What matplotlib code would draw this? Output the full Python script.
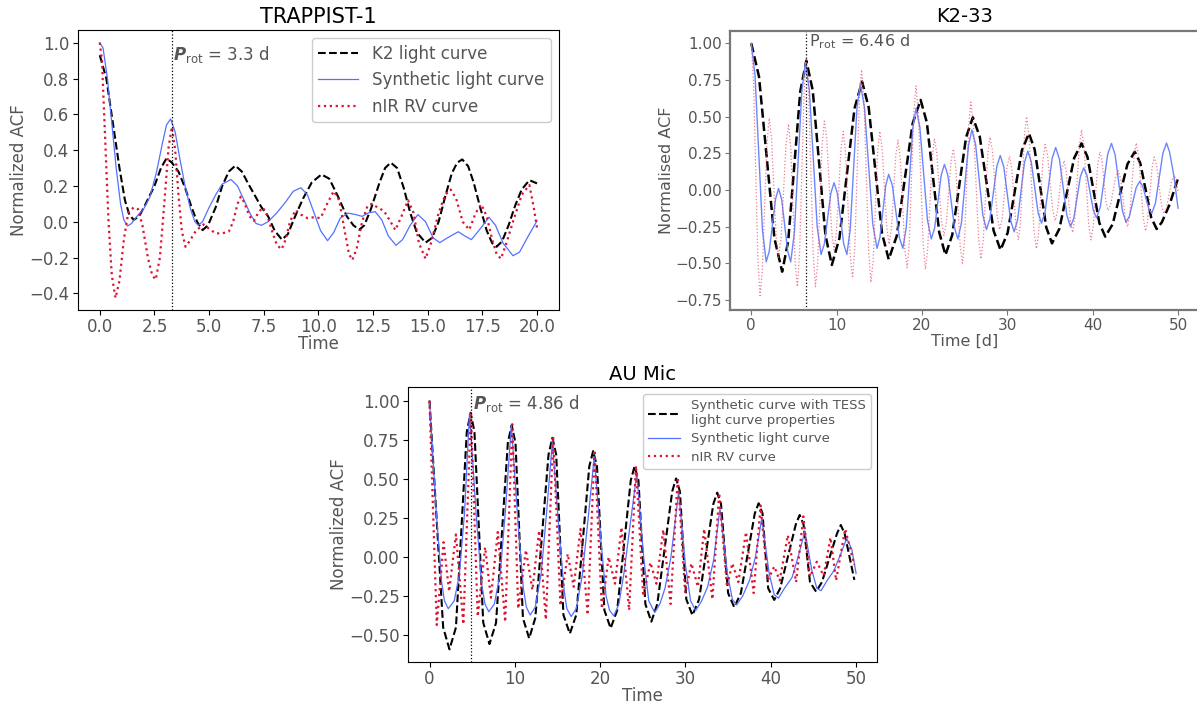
import matplotlib
matplotlib.use("Agg")
import matplotlib.pyplot as plt
from matplotlib.mathtext import MathTextParser

# ---------------- TRAPPIST-1 (panel 1) ----------------
trap_k2_t = [0.0, 0.3, 0.6, 0.9, 1.15, 1.35, 1.55, 1.8, 2.1, 2.5, 2.8, 3.05, 3.3, 3.6, 3.9, 4.2, 4.45, 4.7,
             4.95, 5.3, 5.6, 5.9, 6.2, 6.5, 6.8, 7.4, 7.7, 8.0, 8.33, 8.6, 8.9, 9.3, 9.7, 10.14, 10.5, 10.9,
             11.3, 11.6, 11.87, 12.1, 12.4, 12.8, 13.05, 13.31, 13.6, 13.9, 14.2, 14.5, 14.9, 15.2, 15.5,
             15.8, 16.1, 16.35, 16.58, 16.85, 17.1, 17.4, 17.7, 17.95, 18.15, 18.4, 18.7, 19.0, 19.3, 19.65, 20.0]
trap_k2_v = [0.93, 0.80, 0.55, 0.30, 0.12, 0.04, 0.01, 0.03, 0.10, 0.20, 0.30, 0.354, 0.33, 0.28, 0.19, 0.08,
             0.0, -0.047, -0.02, 0.08, 0.20, 0.28, 0.313, 0.28, 0.21, 0.08, 0.03, -0.05, -0.10, -0.07, 0.02,
             0.13, 0.22, 0.264, 0.24, 0.14, 0.03, -0.02, -0.045, -0.02, 0.07, 0.22, 0.30, 0.33, 0.30, 0.19,
             0.05, -0.06, -0.117, -0.09, 0.0, 0.14, 0.27, 0.33, 0.348, 0.31, 0.22, 0.08, -0.05, -0.12, -0.14,
             -0.11, -0.02, 0.09, 0.18, 0.232, 0.214]

trap_syn_t = [0.0, 0.15, 0.35, 0.55, 0.75, 0.95, 1.1, 1.27, 1.45, 1.7, 2.0, 2.3, 2.6, 2.85, 3.05, 3.24, 3.45,
              3.65, 3.9, 4.15, 4.35, 4.5, 4.7, 5.0, 5.3, 5.6, 6.0, 6.3, 6.6, 6.9, 7.15, 7.4, 7.7, 8.1, 8.5,
              8.85, 9.2, 9.5, 9.8, 10.1, 10.42, 10.7, 11.0, 11.35, 11.7, 12.0, 12.3, 12.6, 12.9, 13.2, 13.55,
              13.85, 14.2, 14.55, 14.9, 15.25, 15.55, 15.9, 16.4, 16.7, 17.0, 17.4, 17.8, 18.1, 18.45, 18.9,
              19.2, 19.6, 20.0]
trap_syn_v = [1.0, 0.97, 0.80, 0.55, 0.30, 0.10, 0.01, -0.024, -0.01, 0.03, 0.07, 0.14, 0.28, 0.43, 0.54,
              0.574, 0.50, 0.36, 0.20, 0.07, 0.0, -0.02, 0.0, 0.08, 0.15, 0.21, 0.236, 0.20, 0.12, 0.04,
              -0.01, -0.02, 0.0, 0.05, 0.11, 0.17, 0.19, 0.15, 0.05, -0.05, -0.106, -0.06, 0.02, 0.048,
              0.04, 0.03, 0.05, 0.056, 0.01, -0.08, -0.132, -0.10, -0.02, 0.04, 0.0, -0.09, -0.117, -0.09,
              -0.056, -0.08, -0.10, -0.04, 0.025, -0.02, -0.12, -0.19, -0.17, -0.08, 0.005]

trap_rv_t = [0.0, 0.1, 0.25, 0.4, 0.55, 0.72, 0.9, 1.1, 1.3, 1.55, 1.75, 1.95, 2.2, 2.4, 2.56, 2.75, 2.95,
             3.15, 3.3, 3.45, 3.6, 3.75, 3.92, 4.1, 4.4, 4.75, 5.0, 5.3, 5.6, 5.9, 6.1, 6.3, 6.45, 6.6, 6.85,
             7.05, 7.25, 7.45, 7.65, 7.9, 8.1, 8.32, 8.5, 8.7, 8.95, 9.2, 9.5, 9.8, 10.1, 10.4, 10.7, 10.95,
             11.2, 11.4, 11.55, 11.75, 12.0, 12.25, 12.45, 12.7, 13.0, 13.3, 13.52, 13.8, 14.1, 14.35, 14.6,
             14.9, 15.15, 15.5, 15.8, 16.05, 16.3, 16.6, 16.9, 17.2, 17.45, 17.7, 17.95, 18.15, 18.35, 18.6,
             18.9, 19.3, 19.65, 19.85, 20.0]
trap_rv_v = [1.0, 0.90, 0.45, 0.0, -0.30, -0.426, -0.33, -0.10, 0.05, 0.08, 0.07, -0.02, -0.20, -0.30, -0.323,
             -0.20, 0.10, 0.42, 0.53, 0.40, 0.15, -0.05, -0.14, -0.11, -0.05, -0.015, -0.04, -0.065, -0.065,
             -0.055, 0.0, 0.10, 0.14, 0.11, 0.03, 0.005, 0.05, 0.08, 0.04, -0.06, -0.13, -0.154, -0.10, 0.0,
             0.065, 0.04, 0.02, 0.025, 0.02, 0.10, 0.171, 0.12, -0.05, -0.18, -0.214, -0.15, 0.0, 0.09, 0.10,
             0.08, 0.06, 0.0, -0.047, 0.03, 0.12, 0.05, -0.12, -0.207, -0.12, 0.05, 0.15, 0.18, 0.13, 0.0,
             -0.045, 0.05, 0.097, 0.03, -0.10, -0.18, -0.207, -0.12, 0.0, 0.15, 0.205, 0.08, -0.035]

# ---------------- K2-33 (panel 2) ----------------
k2_lc_t = [0.0, 0.905, 2.715, 3.62, 4.33, 5.74, 6.45, 7.20, 8.69, 9.44, 10.33, 12.10, 12.98, 13.76, 15.32,
           16.1, 17.04, 18.91, 19.84, 20.57, 22.02, 22.75, 23.55, 25.16, 25.96, 26.77, 28.39, 29.2, 30.03,
           31.70, 32.53, 33.2, 34.56, 35.23, 36.10, 37.83, 38.69, 39.39, 40.78, 41.47, 42.34, 44.07, 44.93,
           45.57, 46.86, 47.5, 48.1, 49.0, 50.0]
k2_lc_v = [1.0, 0.773, -0.330, -0.557, -0.347, 0.672, 0.882, 0.679, -0.308, -0.511, -0.328, 0.557, 0.739,
           0.562, -0.296, -0.473, -0.314, 0.455, 0.614, 0.460, -0.289, -0.443, -0.306, 0.358, 0.495, 0.363,
           -0.277, -0.409, -0.293, 0.270, 0.386, 0.276, -0.255, -0.364, -0.264, 0.218, 0.318, 0.225, -0.225,
           -0.318, -0.233, 0.176, 0.261, 0.184, -0.189, -0.266, -0.22, -0.10, 0.08]

k2_syn_t = [0.0, 0.44, 1.31, 1.75, 2.11, 2.84, 3.2, 3.56, 4.27, 4.62, 5.05, 5.92, 6.35, 6.81, 7.72, 8.18,
            8.56, 9.32, 9.7, 10.08, 10.83, 11.2, 11.59, 12.38, 12.77, 13.26, 14.24, 14.73, 15.07, 15.76,
            16.1, 16.52, 17.35, 17.76, 18.15, 18.92, 19.3, 19.75, 20.64, 21.09, 21.48, 22.25, 22.63, 23.03,
            23.82, 24.21, 24.62, 25.44, 25.85, 26.28, 27.13, 27.55, 27.96, 28.77, 29.17, 29.58, 30.39,
            30.8, 31.2, 32.0, 32.4, 32.8, 33.6, 34.0, 34.42, 35.25, 35.66, 36.1, 36.97, 37.4, 37.79, 38.56,
            38.95, 39.33, 40.08, 40.45, 40.89, 41.76, 42.2, 42.63, 43.48, 43.9, 44.3, 45.1, 45.5, 45.86,
            46.57, 46.92, 47.35, 48.22, 48.65, 49.0, 49.5, 50.0]
k2_syn_v = [1.0, 0.782, -0.272, -0.49, -0.417, -0.063, 0.01, -0.063, -0.417, -0.49, -0.291, 0.671, 0.87,
            0.679, -0.249, -0.44, -0.368, -0.022, 0.05, -0.022, -0.368, -0.44, -0.270, 0.557, 0.727, 0.563,
            -0.234, -0.398, -0.324, 0.033, 0.107, 0.033, -0.324, -0.398, -0.259, 0.418, 0.557, 0.427,
            -0.204, -0.334, -0.260, 0.101, 0.175, 0.101, -0.260, -0.334, -0.225, 0.301, 0.41, 0.311,
            -0.171, -0.27, -0.196, 0.161, 0.235, 0.159, -0.209, -0.285, -0.205, 0.185, 0.265, 0.193,
            -0.154, -0.226, -0.151, 0.215, 0.29, 0.211, -0.171, -0.25, -0.192, 0.092, 0.15, 0.100, -0.140,
            -0.19, -0.116, 0.244, 0.318, 0.239, -0.141, -0.22, -0.179, 0.017, 0.058, 0.026, -0.128, -0.16,
            -0.090, 0.250, 0.32, 0.26, 0.10, -0.124]

k2_rv_t = [0.0, 0.26, 0.77, 1.03, 1.30, 1.83, 2.1, 2.37, 2.92, 3.19, 3.49, 4.08, 4.37, 4.63, 5.14, 5.4,
           5.66, 6.19, 6.45, 6.72, 7.25, 7.52, 7.78, 8.30, 8.56, 8.85, 9.42, 9.7, 9.97, 10.51, 10.78, 11.05,
           11.60, 11.87, 12.13, 12.66, 12.92, 13.20, 13.75, 14.02, 14.28, 14.79, 15.05, 15.33, 15.88, 16.15,
           16.41, 16.93, 17.19, 17.46, 17.99, 18.26, 18.52, 19.04, 19.3, 19.58, 20.13, 20.4, 20.66, 21.19,
           21.45, 21.73, 22.29, 22.57, 22.85, 23.40, 23.67, 23.94, 24.48, 24.75, 24.99, 25.48, 25.72, 26.02,
           26.61, 26.9, 27.17, 27.70, 27.96, 28.25, 28.82, 29.1, 29.39, 29.96, 30.25, 30.51, 31.04, 31.3,
           31.54, 32.01, 32.25, 32.54, 33.11, 33.4, 33.66, 34.17, 34.42, 34.72, 35.31, 35.6, 35.86, 36.39,
           36.65, 36.90, 37.40, 37.65, 37.91, 38.44, 38.7, 38.98, 39.53, 39.8, 40.06, 40.59, 40.85, 41.09,
           41.56, 41.8, 42.10, 42.70, 43.0, 43.28, 43.83, 44.1, 44.35, 44.85, 45.1, 45.38, 45.93, 46.2,
           46.45, 46.95, 47.2, 47.49, 48.06, 48.35, 48.65, 49.25, 49.55, 49.75, 50.0]
k2_rv_v = [1.0, 0.749, -0.469, -0.72, -0.543, 0.313, 0.49, 0.351, -0.321, -0.46, -0.327, 0.317, 0.45, 0.288,
           -0.498, -0.66, -0.432, 0.672, 0.90, 0.672, -0.432, -0.66, -0.495, 0.305, 0.47, 0.342, -0.282,
           -0.41, -0.292, 0.282, 0.40, 0.254, -0.454, -0.60, -0.393, 0.613, 0.82, 0.608, -0.418, -0.63,
           -0.480, 0.250, 0.40, 0.288, -0.258, -0.37, -0.266, 0.236, 0.34, 0.213, -0.403, -0.53, -0.349,
           0.529, 0.71, 0.527, -0.358, -0.54, -0.410, 0.220, 0.35, 0.254, -0.214, -0.31, -0.224, 0.194,
           0.28, 0.166, -0.386, -0.50, -0.339, 0.439, 0.60, 0.444, -0.314, -0.47, -0.349, 0.239, 0.36,
           0.268, -0.178, -0.27, -0.197, 0.157, 0.23, 0.147, -0.257, -0.34, -0.217, 0.377, 0.50, 0.369,
           -0.269, -0.40, -0.296, 0.206, 0.31, 0.234, -0.134, -0.21, -0.150, 0.140, 0.20, 0.128, -0.218,
           -0.29, -0.188, 0.308, 0.41, 0.300, -0.231, -0.34, -0.252, 0.172, 0.26, 0.202, -0.082, -0.14,
           -0.101, 0.091, 0.13, 0.075, -0.195, -0.25, -0.167, 0.237, 0.32, 0.232, -0.192, -0.28, -0.206,
           0.151, 0.225, 0.169, -0.104, -0.16, -0.122, 0.062, 0.10, 0.07, -0.01]

# ---------------- AU Mic (panel 3) ----------------
au_tess_t = [0.0, 1.6, 2.34, 3.1, 4.37, 4.82, 5.27, 6.3, 7.03, 7.8, 9.18, 9.63, 10.08, 10.95, 11.68, 12.4,
             13.95, 14.4, 14.85, 15.7, 16.45, 17.2, 18.73, 19.18, 19.63, 20.5, 21.23, 22.0, 23.59, 24.04,
             24.49, 25.3, 26.0, 26.7, 28.45, 28.9, 29.35, 30.1, 30.82, 31.6, 33.27, 33.72, 34.17, 35.0,
             35.72, 36.5, 38.13, 38.58, 39.03, 39.7, 40.41, 41.1, 42.94, 43.39, 43.84, 44.6, 45.31, 46.0,
             47.76, 48.21, 48.66, 49.8]
au_tess_v = [1.0, -0.45, -0.59, -0.45, 0.80, 0.923, 0.80, -0.42, -0.556, -0.42, 0.73, 0.844, 0.73, -0.39,
             -0.52, -0.39, 0.655, 0.763, 0.655, -0.37, -0.49, -0.37, 0.58, 0.678, 0.58, -0.34, -0.455, -0.34,
             0.49, 0.582, 0.49, -0.30, -0.413, -0.30, 0.42, 0.503, 0.42, -0.27, -0.372, -0.27, 0.34, 0.412,
             0.34, -0.23, -0.321, -0.23, 0.28, 0.344, 0.28, -0.20, -0.274, -0.20, 0.21, 0.269, 0.21, -0.16,
             -0.221, -0.16, 0.15, 0.205, 0.15, -0.146]

au_syn_t = [0.0, 0.8, 1.4, 1.75, 2.2, 2.9, 3.5, 4.1, 4.69, 5.5, 6.1, 6.5, 6.95, 7.6, 8.3, 8.9, 9.59,
            10.4, 11.0, 11.35, 11.8, 12.4, 13.1, 13.7, 14.4, 15.2, 15.8, 16.1, 16.6, 17.2, 17.9, 18.6,
            19.31, 20.1, 20.7, 21.1, 21.6, 22.2, 22.8, 23.5, 24.3, 25.1, 25.7, 26.4, 27.0, 27.6, 28.3,
            29.2, 30.0, 30.6, 31.2, 31.9, 32.6, 33.3, 34.05, 34.9, 35.5, 36.0, 36.7, 37.5, 38.2, 38.95,
            39.8, 40.4, 40.9, 41.6, 42.5, 43.2, 44.0, 44.8, 45.4, 45.9, 46.6, 47.4, 48.2, 48.9, 49.5, 50.0]
au_syn_v = [1.0, 0.28, -0.15, -0.28, -0.33, -0.28, -0.11, 0.28, 0.92, 0.25, -0.17, -0.30, -0.35, -0.30,
            -0.10, 0.30, 0.844, 0.20, -0.20, -0.32, -0.37, -0.32, -0.10, 0.27, 0.738, 0.15, -0.22, -0.33,
            -0.38, -0.33, -0.12, 0.25, 0.642, 0.10, -0.25, -0.34, -0.376, -0.30, -0.10, 0.20, 0.535, 0.0,
            -0.28, -0.355, -0.30, -0.20, 0.0, 0.418, -0.05, -0.28, -0.342, -0.28, -0.19, -0.02, 0.312,
            -0.10, -0.27, -0.306, -0.25, -0.15, 0.0, 0.248, -0.10, -0.24, -0.263, -0.20, -0.13, 0.0, 0.165,
            -0.08, -0.20, -0.215, -0.15, -0.087, 0.02, 0.12, 0.05, -0.104]

au_rv_t = [0.0, 0.85, 1.65, 2.3, 3.1, 3.97, 4.85, 5.65, 6.52, 7.2, 8.0, 8.87, 9.7, 10.4, 11.3, 12.06,
           12.85, 13.64, 14.5, 15.35, 16.2, 16.9, 17.7, 18.54, 19.35, 20.2, 21.0, 21.74, 22.5, 23.4, 24.2,
           25.05, 25.9, 26.6, 27.4, 28.26, 29.1, 29.97, 30.7, 31.46, 32.2, 33.16, 33.95, 34.87, 35.5,
           36.2, 37.1, 38.0, 38.8, 39.64, 40.41, 41.05, 42.0, 42.97, 43.82, 44.6, 45.4, 46.2, 47.0,
           47.66, 48.72, 49.8]
au_rv_v = [1.0, -0.434, 0.095, -0.22, 0.145, -0.43, 0.93, -0.38, 0.063, -0.26, 0.16, -0.415, 0.85, -0.33,
           0.045, -0.21, 0.17, -0.40, 0.77, -0.31, 0.02, -0.19, 0.18, -0.37, 0.685, -0.33, 0.0, -0.17, 0.19,
           -0.34, 0.585, -0.25, -0.035, -0.17, 0.175, -0.30, 0.51, -0.23, -0.04, -0.19, 0.18, -0.27, 0.41,
           -0.19, -0.04, -0.16, 0.16, -0.23, 0.33, -0.15, -0.06, -0.15, 0.14, -0.16, 0.26, -0.125, -0.03,
           -0.12, 0.125, -0.15, 0.18, -0.05]

# rotation periods
prot_trap = 3.3
prot_k2 = 6.46
prot_au = 4.86

GREY = "#555555"
BLACK_C = "black"
BLUE_C = "#5470ff"
RED_C = "#dc1432"

try:
    MathTextParser("agg").parse(r"$\mathbfit{P}$", dpi=100)
    PSYM = r"\mathbfit{P}"
except Exception:
    PSYM = r"P"

fig = plt.figure(figsize=(11.97, 7.04), dpi=100)


def style_axes(ax, fs, spine_color="black", spine_lw=0.8):
    for s in ax.spines.values():
        s.set_color(spine_color)
        s.set_linewidth(spine_lw)
    ax.tick_params(labelsize=fs, labelcolor=GREY, color=spine_color, pad=2.5)


# Panel 1
ax1 = fig.add_axes([0.0651, 0.5597, 0.4018, 0.3977])
ax1.plot(trap_k2_t, trap_k2_v, ls="--", color=BLACK_C, lw=1.5, label="K2 light curve")
ax1.plot(trap_syn_t, trap_syn_v, ls="-", color=BLUE_C, lw=0.9, label="Synthetic light curve")
ax1.plot(trap_rv_t, trap_rv_v, ls=":", color=RED_C, lw=1.6, label="nIR RV curve")
ax1.axvline(prot_trap, color="black", ls=":", lw=0.9)
ax1.text(prot_trap + 0.05, 0.935, r"$%s_{\rm rot}$ = 3.3 d" % PSYM, color=GREY, fontsize=12,
         va="center", ha="left")
ax1.set_xlim(-1, 21)
ax1.set_ylim(-0.493, 1.071)
ax1.set_xticks([0, 2.5, 5, 7.5, 10, 12.5, 15, 17.5, 20])
ax1.set_xticklabels(["0.0", "2.5", "5.0", "7.5", "10.0", "12.5", "15.0", "17.5", "20.0"])
ax1.set_yticks([-0.4, -0.2, 0.0, 0.2, 0.4, 0.6, 0.8, 1.0])
style_axes(ax1, 12)
ax1.set_title("TRAPPIST-1", fontsize=15, color="black", pad=5)
ax1.set_xlabel("Time", fontsize=12, color=GREY, labelpad=-1)
ax1.set_ylabel("Normalized ACF", fontsize=12, color=GREY, labelpad=1)
leg1 = ax1.legend(loc="upper right", fontsize=12, handlelength=2.4, framealpha=1)
for t in leg1.get_texts():
    t.set_color(GREY)

# Panel 2
ax2 = fig.add_axes([0.6098, 0.5597, 0.3922, 0.3967])
ax2.plot(k2_lc_t, k2_lc_v, ls="--", color=BLACK_C, lw=1.8)
ax2.plot(k2_syn_t, k2_syn_v, ls="-", color="#6a86ff", lw=1.0)
ax2.plot(k2_rv_t, k2_rv_v, ls=":", color="#e8506a", lw=0.9, alpha=0.75)
ax2.axvline(prot_k2, color="black", ls=":", lw=0.9)
ax2.text(prot_k2 + 0.35, 1.01, r"$\mathrm{P}_{\rm rot}$ = 6.46 d", color=GREY, fontsize=11.5,
         va="center", ha="left")
ax2.set_xlim(-2.5, 52.5)
ax2.set_ylim(-0.818, 1.086)
ax2.set_xticks([0, 10, 20, 30, 40, 50])
ax2.set_yticks([-0.75, -0.5, -0.25, 0.0, 0.25, 0.5, 0.75, 1.0])
ax2.set_yticklabels(["\u22120.75", "\u22120.50", "\u22120.25", "0.00", "0.25", "0.50", "0.75", "1.00"])
style_axes(ax2, 11, spine_color="#777777", spine_lw=1.6)
ax2.spines["right"].set_visible(False)
ax2.set_title("K2-33", fontsize=14, color="black", pad=6)
ax2.set_xlabel("Time [d]", fontsize=11.5, color=GREY, labelpad=0)
ax2.set_ylabel("Normalised ACF", fontsize=11.5, color=GREY, labelpad=1)

# Panel 3
ax3 = fig.add_axes([0.3410, 0.0601, 0.3920, 0.3898])
ax3.plot(au_tess_t, au_tess_v, ls="--", color=BLACK_C, lw=1.5,
         label="Synthetic curve with TESS\nlight curve properties")
ax3.plot(au_syn_t, au_syn_v, ls="-", color=BLUE_C, lw=0.9, label="Synthetic light curve")
ax3.plot(au_rv_t, au_rv_v, ls=":", color=RED_C, lw=1.6, label="nIR RV curve")
ax3.axvline(prot_au, color="black", ls=":", lw=0.9)
ax3.text(prot_au + 0.2, 0.983, r"$%s_{\rm rot}$ = 4.86 d" % PSYM, color=GREY, fontsize=12,
         va="center", ha="left")
ax3.set_xlim(-2.5, 52.5)
ax3.set_ylim(-0.669, 1.086)
ax3.set_xticks([0, 10, 20, 30, 40, 50])
ax3.set_yticks([-0.5, -0.25, 0.0, 0.25, 0.5, 0.75, 1.0])
ax3.set_yticklabels(["\u22120.50", "\u22120.25", "0.00", "0.25", "0.50", "0.75", "1.00"])
style_axes(ax3, 12)
ax3.set_title("AU Mic", fontsize=14, color="black", pad=5)
ax3.set_xlabel("Time", fontsize=12, color=GREY, labelpad=-1)
ax3.set_ylabel("Normalized ACF", fontsize=12, color=GREY, labelpad=1)
leg3 = ax3.legend(loc="upper right", fontsize=9.5, handlelength=2.4, framealpha=1, labelspacing=0.4)
for t in leg3.get_texts():
    t.set_color(GREY)

fig.savefig("out.png", dpi=100)
